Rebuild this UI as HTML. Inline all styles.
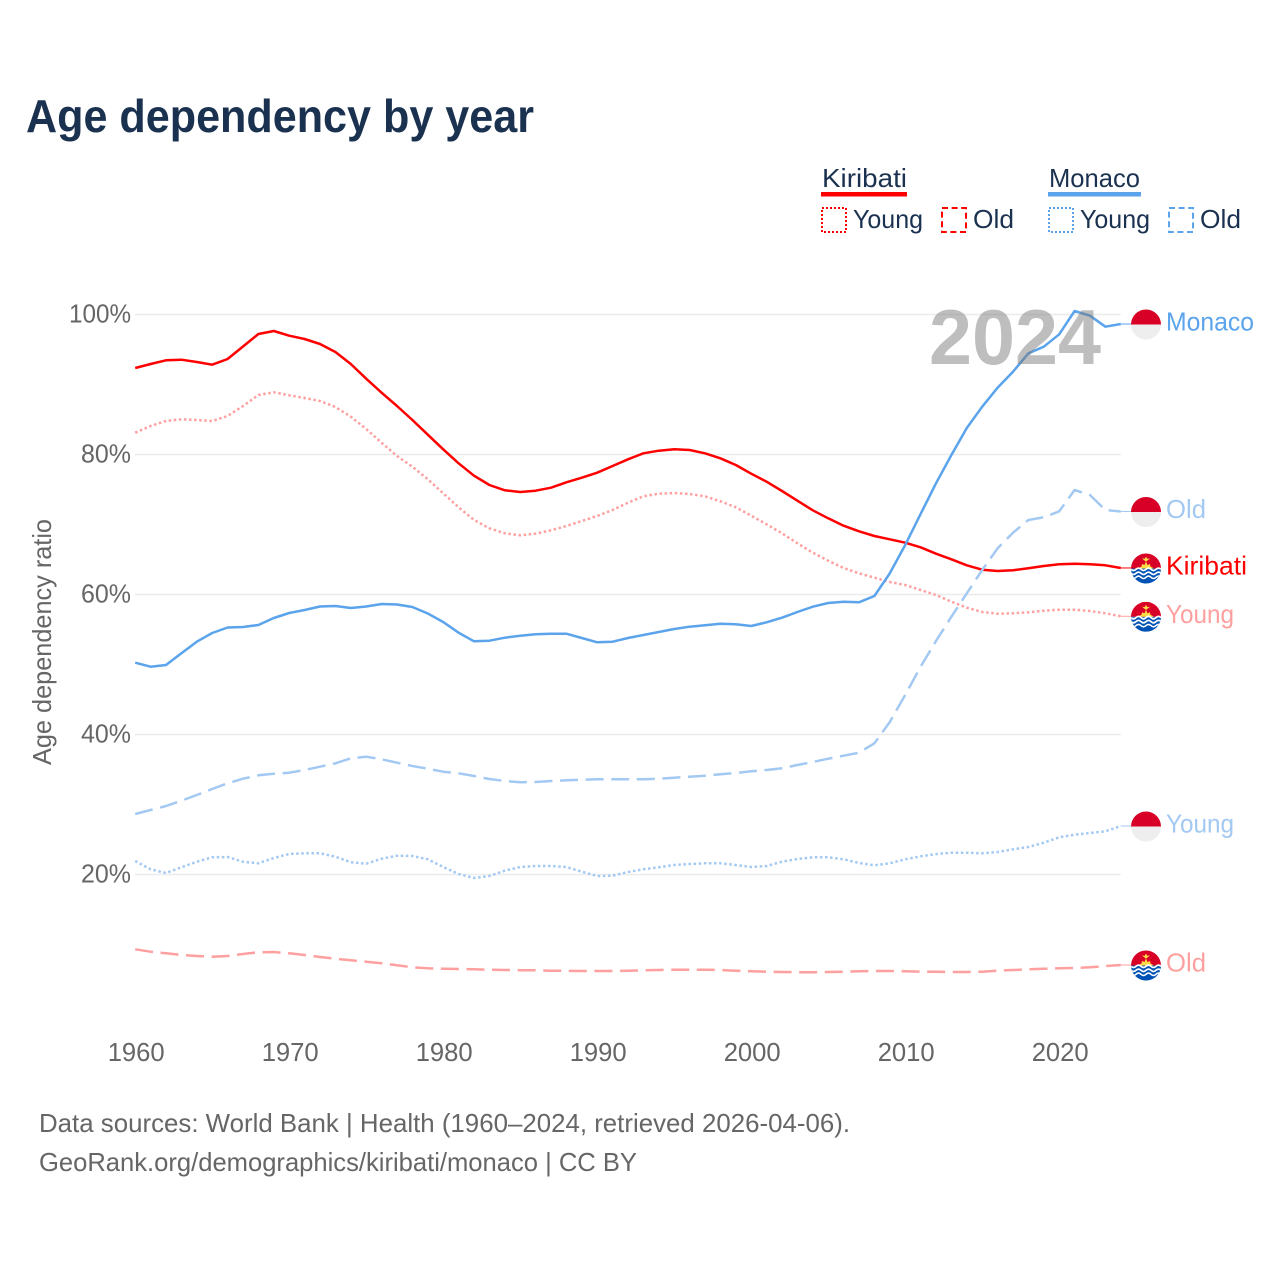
<!DOCTYPE html>
<html lang="en">
<head>
<meta charset="utf-8">
<title>Age dependency by year</title>
<style>
html,body{margin:0;padding:0;background:#fff;width:1280px;height:1280px;overflow:hidden}
svg{display:block;font-family:"Liberation Sans",sans-serif}
</style>
</head>
<body>
<svg id="chart" xmlns="http://www.w3.org/2000/svg" width="1280" height="1280" viewBox="0 0 1280 1280">
  <defs>
    <clipPath id="flag-clip"><circle cx="0" cy="0" r="15"/></clipPath>
    <g id="flag-monaco" clip-path="url(#flag-clip)">
      <rect x="-15" y="-15" width="30" height="15" fill="#d80027"/>
      <rect x="-15" y="0" width="30" height="15" fill="#eeeeee"/>
    </g>
    <g id="flag-kiribati" clip-path="url(#flag-clip)">
      <rect x="-15" y="-15" width="30" height="15" fill="#d80027"/>
      <rect x="-15" y="0" width="30" height="15" fill="#0052b4"/>
      <polygon points="-8,0 -4.5,-2 -4,-4.5 -1.5,-3.5 0,-7 1.5,-3.5 4,-4.5 4.5,-2 8,0" fill="#ffda44"/>
      <polygon points="-4,-10 -1.2,-9.8 0,-12 1.2,-9.8 4,-10 1.5,-8 0,-6.8 -1.5,-8" fill="#ffda44"/>
      <path d="M-15 0.8q2.5 2.4 5 0t5 0t5 0t5 0t5 0t5 0" fill="none" stroke="#fff" stroke-width="1.7"/>
      <path d="M-15 4.8q2.5 2.4 5 0t5 0t5 0t5 0t5 0t5 0" fill="none" stroke="#fff" stroke-width="1.7"/>
      <path d="M-15 8.8q2.5 2.4 5 0t5 0t5 0t5 0t5 0t5 0" fill="none" stroke="#fff" stroke-width="1.5"/>
    </g>
  </defs>

  <text x="26" y="132" font-size="46" font-weight="700" fill="#1a3150" textLength="508" lengthAdjust="spacingAndGlyphs">Age dependency by year</text>

  <g font-size="26" fill="#1a3150">
    <text x="822" y="187" textLength="85" lengthAdjust="spacingAndGlyphs">Kiribati</text>
    <rect x="821" y="192" width="86" height="4.5" fill="#ff0000"/>
    <rect x="822" y="208" width="24" height="24" fill="none" stroke="#ff0000" stroke-width="2" stroke-dasharray="2 2"/>
    <text x="853" y="228" textLength="70" lengthAdjust="spacingAndGlyphs">Young</text>
    <rect x="942" y="208" width="24" height="24" fill="none" stroke="#ff0000" stroke-width="2" stroke-dasharray="6 3.6"/>
    <text x="973" y="228" textLength="41" lengthAdjust="spacingAndGlyphs">Old</text>

    <text x="1049" y="187" textLength="91" lengthAdjust="spacingAndGlyphs">Monaco</text>
    <rect x="1048" y="192" width="93" height="4.5" fill="#5ba4ec"/>
    <rect x="1049" y="208" width="24" height="24" fill="none" stroke="#5ba4ec" stroke-width="2" stroke-dasharray="2 2"/>
    <text x="1080" y="228" textLength="70" lengthAdjust="spacingAndGlyphs">Young</text>
    <rect x="1169" y="208" width="24" height="24" fill="none" stroke="#5ba4ec" stroke-width="2" stroke-dasharray="6 3.6"/>
    <text x="1200" y="228" textLength="41" lengthAdjust="spacingAndGlyphs">Old</text>
  </g>

  <text transform="translate(51,765) rotate(-90)" x="0" y="0" font-size="26" fill="#666666" textLength="246" lengthAdjust="spacingAndGlyphs">Age dependency ratio</text>

  <g id="grid"></g>
  <g id="yticks"></g>
  <g id="xticks"></g>
  <g id="series"></g>

  <text x="929" y="364" font-size="78" font-weight="700" fill="#787878" fill-opacity="0.48" textLength="172" lengthAdjust="spacingAndGlyphs">2024</text>

  <g id="endmarks"></g>

  <text x="39" y="1132" font-size="26" fill="#666666" textLength="811" lengthAdjust="spacingAndGlyphs">Data sources: World Bank | Health (1960–2024, retrieved 2026-04-06).</text>
  <text x="39" y="1171" font-size="26" fill="#666666" textLength="598" lengthAdjust="spacingAndGlyphs">GeoRank.org/demographics/kiribati/monaco | CC BY</text>
</svg>

<script>
const startYear = 1960;
const endYear = 2024;
const yTickValues = [20, 40, 60, 80, 100];
const xTickValues = [1960, 1970, 1980, 1990, 2000, 2010, 2020];

const kiribatiTotal = [92.36,92.93,93.46,93.54,93.21,92.83,93.64,95.43,97.21,97.64,96.97,96.50,95.79,94.64,92.93,90.83,88.83,86.93,84.93,82.83,80.74,78.74,76.97,75.64,74.89,74.64,74.83,75.26,76.03,76.69,77.40,78.36,79.31,80.17,80.54,80.74,80.64,80.17,79.46,78.50,77.26,76.11,74.79,73.40,72.03,70.89,69.83,69.03,68.36,67.89,67.40,66.74,65.83,65.03,64.17,63.54,63.36,63.46,63.74,64.07,64.31,64.40,64.31,64.17,63.79];
const kiribatiYoung = [83.11,84.07,84.79,85.03,84.93,84.79,85.50,86.93,88.50,88.89,88.46,88.07,87.64,86.79,85.40,83.64,81.69,79.79,78.26,76.46,74.46,72.46,70.64,69.46,68.74,68.46,68.69,69.17,69.79,70.50,71.21,72.07,73.11,74.03,74.40,74.50,74.36,74.03,73.31,72.46,71.26,70.03,68.74,67.31,65.97,64.83,63.79,63.03,62.40,61.79,61.36,60.64,59.93,58.97,58.11,57.50,57.26,57.31,57.46,57.69,57.83,57.83,57.64,57.31,56.89];
const kiribatiOld = [9.31,8.97,8.74,8.50,8.36,8.26,8.36,8.64,8.89,8.93,8.74,8.50,8.21,7.97,7.74,7.54,7.31,7.03,6.74,6.60,6.54,6.50,6.46,6.40,6.36,6.33,6.31,6.26,6.24,6.21,6.21,6.21,6.24,6.31,6.36,6.40,6.40,6.40,6.36,6.26,6.17,6.11,6.07,6.03,6.03,6.07,6.11,6.17,6.21,6.21,6.17,6.11,6.10,6.07,6.07,6.11,6.26,6.36,6.46,6.54,6.60,6.64,6.74,6.93,7.07];
const monacoTotal = [50.26,49.69,49.93,51.60,53.26,54.50,55.29,55.36,55.64,56.64,57.36,57.79,58.29,58.36,58.07,58.29,58.64,58.57,58.21,57.29,56.07,54.54,53.31,53.40,53.83,54.11,54.31,54.40,54.40,53.79,53.17,53.26,53.79,54.21,54.64,55.07,55.40,55.60,55.83,55.74,55.50,56.03,56.69,57.50,58.26,58.79,58.97,58.89,59.79,63.03,67.07,71.50,75.89,79.93,83.79,86.83,89.54,91.83,94.46,95.40,97.17,100.50,99.83,98.26,98.64];
const monacoOld = [28.64,29.21,29.79,30.54,31.36,32.21,33.03,33.69,34.17,34.40,34.54,34.93,35.40,35.89,36.60,36.83,36.46,35.97,35.50,35.11,34.69,34.46,34.07,33.64,33.36,33.17,33.21,33.36,33.46,33.54,33.61,33.60,33.60,33.60,33.69,33.83,33.97,34.11,34.31,34.50,34.74,34.93,35.17,35.64,36.07,36.54,36.97,37.40,38.74,41.79,45.64,49.69,53.36,56.83,60.17,63.50,66.60,68.83,70.64,71.03,71.89,74.93,74.21,72.07,71.86];
const monacoYoung = [21.93,20.74,20.21,21.03,21.83,22.46,22.50,21.83,21.60,22.36,22.93,23.03,23.03,22.54,21.74,21.54,22.26,22.69,22.64,22.17,21.07,20.07,19.50,19.79,20.54,21.07,21.21,21.21,21.07,20.40,19.79,19.83,20.36,20.74,21.03,21.36,21.50,21.60,21.60,21.36,21.07,21.21,21.83,22.21,22.46,22.46,22.17,21.64,21.31,21.60,22.17,22.60,22.93,23.11,23.11,23.03,23.21,23.60,23.93,24.54,25.31,25.69,25.93,26.17,26.93];

const NS = 'http://www.w3.org/2000/svg';
const xScale = function (year) { return 135.2 + (year - startYear) * 15.4; };
const yScale = function (value) { return 1014.5 - value * 7; };

function make(tag, attrs, parent) {
  const el = document.createElementNS(NS, tag);
  for (const k in attrs) { el.setAttribute(k, attrs[k]); }
  parent.appendChild(el);
  return el;
}

const grid = document.getElementById('grid');
const yticks = document.getElementById('yticks');
yTickValues.forEach(function (v) {
  const line = make('line', { x1: 135, x2: xScale(endYear), y1: yScale(v), y2: yScale(v), stroke: '#ebebeb', 'stroke-width': 1.5 }, grid);
  
  
  const t = make('text', { x: 131, y: yScale(v) + 8, 'font-size': 26, fill: '#666666', 'text-anchor': 'end', textLength: v === 100 ? 62 : 50, lengthAdjust: 'spacingAndGlyphs' }, yticks);
  t.textContent = v + '%';
  
  
});

const xticks = document.getElementById('xticks');
xTickValues.forEach(function (year) {
  const t = make('text', { x: xScale(year) + 1, y: 1061, 'font-size': 26, fill: '#666666', 'text-anchor': 'middle', textLength: 57, lengthAdjust: 'spacingAndGlyphs' }, xticks);
  t.textContent = String(year);
  
  
});

const seriesDefs = [
  { key: 'kiribati-total', values: kiribatiTotal, color: '#ff0000', dash: '', flag: 'flag-kiribati', label: 'Kiribati', w: 81 },
  { key: 'kiribati-young', values: kiribatiYoung, color: '#ffa0a0', dash: '2.5 2.6', flag: 'flag-kiribati', label: 'Young', w: 68 },
  { key: 'kiribati-old', values: kiribatiOld, color: '#ffa0a0', dash: '18 7.6', flag: 'flag-kiribati', label: 'Old', w: 40 },
  { key: 'monaco-total', values: monacoTotal, color: '#5ba4ec', dash: '', flag: 'flag-monaco', label: 'Monaco', w: 88 },
  { key: 'monaco-young', values: monacoYoung, color: '#a3c9f3', dash: '2.5 2.6', flag: 'flag-monaco', label: 'Young', w: 68 },
  { key: 'monaco-old', values: monacoOld, color: '#a3c9f3', dash: '18 7.6', flag: 'flag-monaco', label: 'Old', w: 40 }
];

const seriesGroup = document.getElementById('series');
const endGroup = document.getElementById('endmarks');
seriesDefs.forEach(function (s) {
  const pts = s.values.map(function (v, i) {
    return xScale(startYear + i).toFixed(1) + ',' + yScale(v).toFixed(1);
  }).join(' ');
  const attrs = { points: pts, fill: 'none', stroke: s.color, 'stroke-width': 2.5, 'stroke-linejoin': 'round' };
  if (s.dash) { attrs['stroke-dasharray'] = s.dash; }
  const line = make('polyline', attrs, seriesGroup);
  
  

  const last = s.values[s.values.length - 1];
  const yEnd = yScale(last);
  const xEnd = xScale(endYear);
  const conn = make('line', { x1: xEnd, x2: 1132, y1: yEnd, y2: yEnd, stroke: s.color, 'stroke-width': 1 }, endGroup);
  
  

  const flag = make('use', { href: '#' + s.flag, transform: 'translate(1146,' + (yEnd + 0.5).toFixed(1) + ')' }, endGroup);
  
  

  const t = make('text', { x: 1166, y: yEnd + 6.5, 'font-size': 26, fill: s.color, textLength: s.w, lengthAdjust: 'spacingAndGlyphs' }, endGroup);
  t.textContent = s.label;
  
  
});
</script>
</body>
</html>
